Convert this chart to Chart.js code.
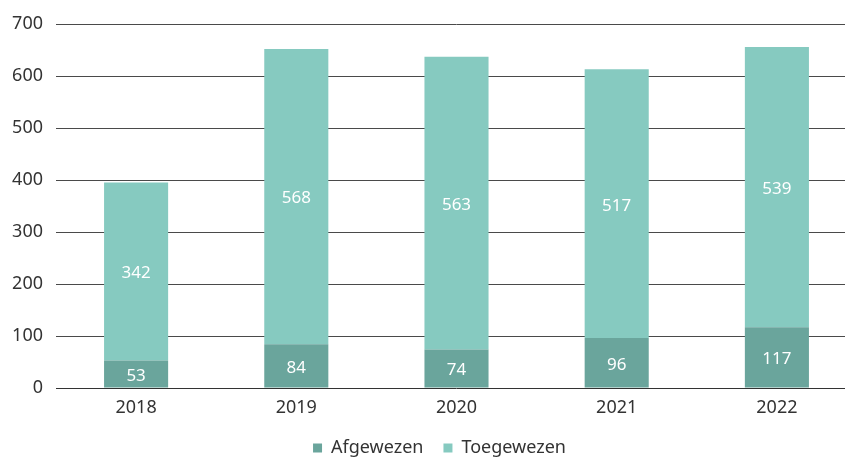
<!DOCTYPE html>
<html>
<head>
<meta charset="utf-8">
<script src="https://cdn.jsdelivr.net/npm/chart.js@4/dist/chart.umd.min.js"></script>
<style>
  html, body { margin: 0; padding: 0; background: #fff; overflow: hidden; }
  #wrap { width: 857px; height: 459px; }
</style>
</head>
<body>
<div id="wrap"><canvas id="c" width="857" height="459"></canvas></div>
<script>
const years = ['2018', '2019', '2020', '2021', '2022'];
const afgewezen = [53, 84, 74, 96, 117];
const toegewezen = [342, 568, 563, 517, 539];
const yTicks = [0, 100, 200, 300, 400, 500, 600, 700];

const FONT = '"Noto Sans", "Open Sans", sans-serif';
const LEGEND_HEIGHT = 40;
const LEGEND_SHIFT_X = 11;

// White value labels centred in each stacked segment
const segmentLabels = {
  id: 'segmentLabels',
  afterDatasetsDraw(chart) {
    const ctx = chart.ctx;
    ctx.save();
    ctx.fillStyle = '#ffffff';
    ctx.font = '17px ' + FONT;
    ctx.textAlign = 'center';
    ctx.textBaseline = 'middle';
    chart.data.datasets.forEach((ds, i) => {
      chart.getDatasetMeta(i).data.forEach((bar, j) => {
        const mid = (bar.y + bar.base) / 2;
        ctx.fillText(String(ds.data[j]), bar.x, mid + 2);
      });
    });
    ctx.restore();
  }
};

// Keep wide gaps between legend items without a tall legend box
const compactLegend = {
  id: 'compactLegend',
  afterInit(chart) {
    const legend = chart.legend;
    if (!legend) return;
    const fit = legend.fit.bind(legend);
    legend.fit = function () {
      fit();
      this.height = LEGEND_HEIGHT;
    };
    const draw = legend.draw.bind(legend);
    legend.draw = function () {
      const ctx = this.ctx;
      ctx.save();
      ctx.translate(LEGEND_SHIFT_X, 0);
      draw();
      ctx.restore();
    };
  }
};

new Chart(document.getElementById('c'), {
  type: 'bar',
  data: {
    labels: years,
    datasets: [
      { label: 'Afgewezen', data: afgewezen, backgroundColor: '#6aa59c', stack: 's' },
      { label: 'Toegewezen', data: toegewezen, backgroundColor: '#86cac0', stack: 's' }
    ]
  },
  options: {
    responsive: false,
    animation: false,
    layout: { padding: { top: 24, left: 0, right: 0, bottom: 0 } },
    datasets: { bar: { categoryPercentage: 1, barPercentage: 0.4 } },
    scales: {
      x: {
        stacked: true,
        afterFit(scale) { scale.height = 31; },
        grid: { display: false, drawTicks: false },
        border: { display: false },
        ticks: { color: '#333', font: { family: FONT, size: 18 }, padding: 9 }
      },
      y: {
        stacked: true,
        min: 0,
        max: 700,
        afterBuildTicks(scale) { scale.ticks = yTicks.map(v => ({ value: v })); },
        afterFit(scale) { scale.width = 56; },
        grid: {
          color: ctx => ctx.tick && ctx.tick.value === 0 ? '#333' : '#4a4a4a',
          lineWidth: 1,
          drawTicks: false
        },
        border: { display: false },
        ticks: { color: '#333', font: { family: FONT, size: 18 }, padding: 13 }
      }
    },
    plugins: {
      tooltip: { enabled: false },
      legend: {
        position: 'bottom',
        labels: {
          color: '#333',
          font: { family: FONT, size: 18 },
          boxWidth: 9,
          boxHeight: 9,
          padding: 20
        }
      }
    }
  },
  plugins: [segmentLabels, compactLegend]
});
</script>
</body>
</html>
